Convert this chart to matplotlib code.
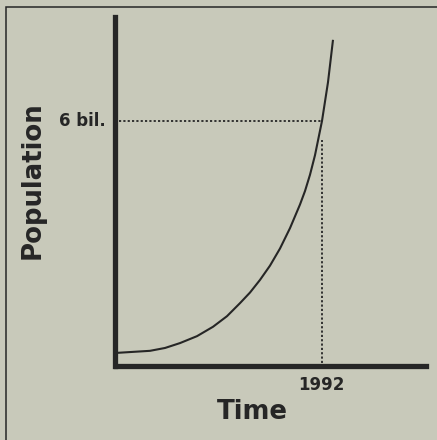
import matplotlib.pyplot as plt
from matplotlib.patches import Rectangle

# Population curve
years = [1787, 1820, 1835, 1850, 1867, 1883, 1897, 1910, 1920, 1930, 1940, 1950,
         1960, 1970, 1975, 1980, 1985, 1992, 1998, 2003]
population = [0.31, 0.36, 0.43, 0.55, 0.72, 0.95, 1.21, 1.53, 1.79, 2.10, 2.45, 2.87,
              3.37, 3.95, 4.28, 4.68, 5.16, 6.0, 6.95, 7.99]

mark_year = 1992
mark_pop = 6.0
mark_pop_label = '6 bil.'
mark_year_label = '1992'

bg = '#c8c9ba'
ink = '#262626'

plt.rcParams['font.family'] = ['DejaVu Sans']

fig = plt.figure(figsize=(4.37, 4.40), dpi=100, facecolor=bg)
W, H = 437, 440

# outer frame of the clipping
fig.patches.append(Rectangle((6 / W, -0.05), 1.1, (440 - 7.5) / H + 0.05,
                             transform=fig.transFigure, fill=False,
                             edgecolor=ink, linewidth=1.1))

ax = fig.add_axes([115.5 / W, (H - 365.5) / H, (426 - 115.5) / W, (365.5 - 17) / H])
ax.set_facecolor('none')
ax.set_xlim(1785.5, 2096)
ax.set_ylim(0, 8.55)

for side in ['top', 'right']:
    ax.spines[side].set_visible(False)
for side in ['left', 'bottom']:
    ax.spines[side].set_linewidth(3.8)
    ax.spines[side].set_color(ink)
    ax.spines[side].set_capstyle('projecting')
ax.set_xticks([])
ax.set_yticks([])

ax.plot(years, population, color=ink, linewidth=1.5, solid_capstyle='butt',
        solid_joinstyle='round')

# dotted guide lines to the 1992 / 6 billion point
ax.hlines(mark_pop, 1789, mark_year, colors=ink, linewidth=1.3, linestyles=(0, (1.2, 1.2)))
ax.vlines(mark_year, 0.05, 5.53, colors=ink, linewidth=1.3, linestyles=(0, (1.2, 1.2)))

ax.text(1776, mark_pop, mark_pop_label, ha='right', va='center', fontsize=12,
        fontweight='bold', color=ink)
fig.text(321 / W, 1 - 385 / H, mark_year_label, ha='center', va='center', fontsize=12,
         fontweight='bold', color=ink)
fig.text(252 / W, 1 - 412 / H, 'Time', ha='center', va='center', fontsize=18.7,
         fontweight='bold', color=ink)
fig.text(33 / W, 1 - 180 / H, 'Population', ha='center', va='center', rotation=90,
         fontsize=18.7, fontweight='bold', color=ink)

plt.savefig('out.png', dpi=100, facecolor=bg)
